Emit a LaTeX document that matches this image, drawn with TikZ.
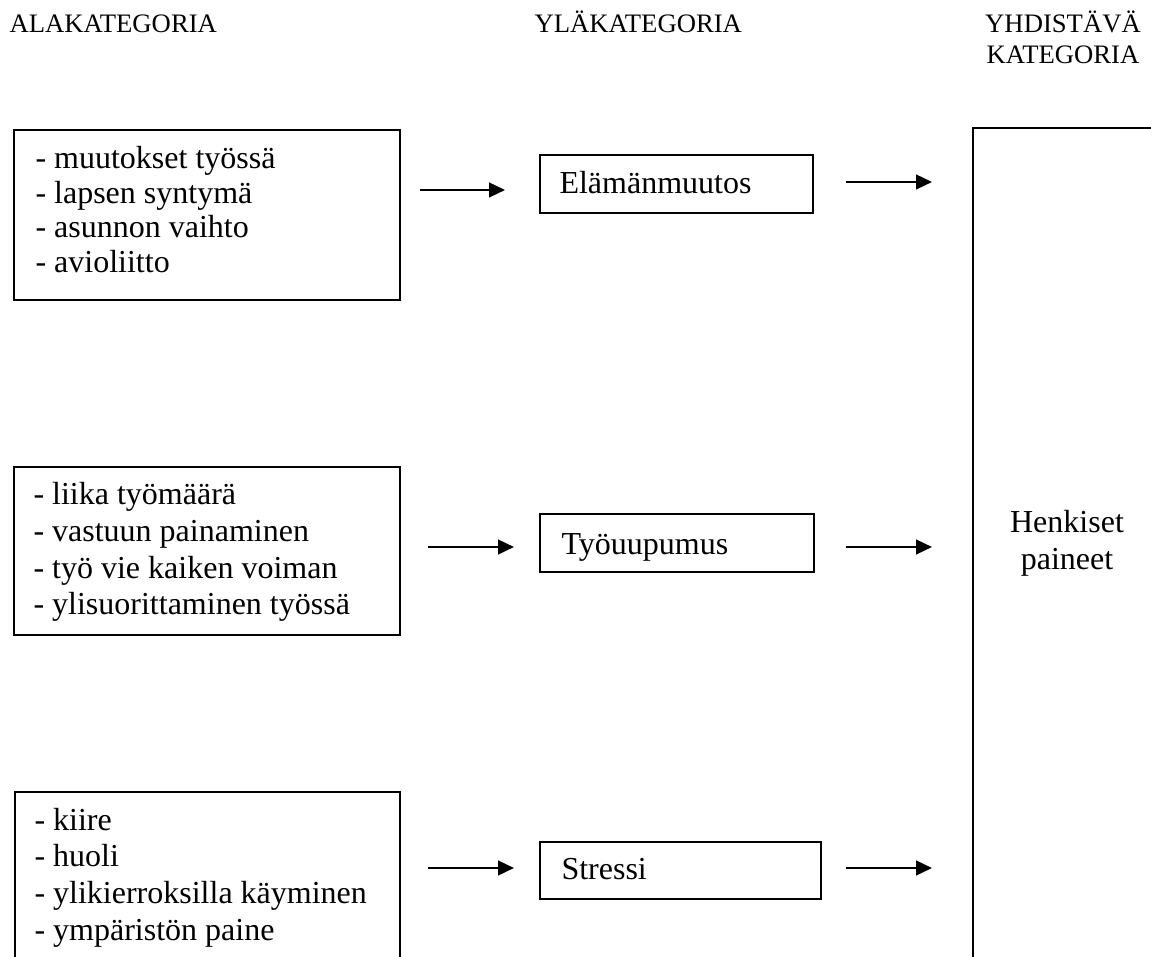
\documentclass[tikz,border=0pt]{standalone}
\usepackage{fontspec}
\setmainfont{Liberation Serif}
\usetikzlibrary{arrows.meta}
\tikzset{
  box/.style={draw, line width=0.8pt, rectangle, inner sep=0pt, anchor=north west},
  arr/.style={line width=0.9pt, -{Triangle[length=6pt,width=5.5pt]}},
  body/.style={inner sep=0pt, anchor=base west, font=\fontsize{12}{13.8}\selectfont},
  head/.style={inner sep=0pt, font=\fontsize{10}{11.6}\selectfont}
}
\begin{document}
\begin{tikzpicture}[x=0.375pt, y=-0.375pt]
\clip (0,0) rectangle (1151,957);
\fill[white] (0,0) rectangle (1151,957);

% headers
\node[head, anchor=base west] (h1) at (9,33) {ALAKATEGORIA};
\node[head, anchor=base west] (h2) at (534,33) {YLÄKATEGORIA};
\node[head, anchor=base] (h3) at (1063,33) {\vtop{\baselineskip=11.6pt\halign{\hfil#\hfil\cr YHDISTÄVÄ\cr KATEGORIA\cr}}};

% left boxes
\node[box, minimum width=144.75pt, minimum height=63.75pt] (a1) at (13,129) {};
\node[body] (t1) at (35,169) {\vtop{\baselineskip=12.9pt
  \hbox{- muutokset työssä}\hbox{- lapsen syntymä}\hbox{- asunnon vaihto}\hbox{- avioliitto}}};

\node[box, minimum width=144.75pt, minimum height=63pt] (a2) at (13,466) {};
\node[body] (t2) at (33,505) {\vtop{\baselineskip=13.75pt
  \hbox{- liika työmäärä}\hbox{- vastuun painaminen}\hbox{- työ vie kaiken voiman}\hbox{- ylisuorittaminen työssä}}};

\node[box, minimum width=144.4pt, minimum height=78pt] (a3) at (14,791) {};
\node[body] (t3) at (34,830) {\vtop{\baselineskip=13.75pt
  \hbox{- kiire}\hbox{- huoli}\hbox{- ylikierroksilla käyminen}\hbox{- ympäristön paine}}};

% middle boxes
\node[box, minimum width=102.4pt, minimum height=21.75pt] (b1) at (539,154) {};
\node[body] (u1) at (559,194) {Elämänmuutos};
\node[box, minimum width=102.75pt, minimum height=21.75pt] (b2) at (539,513) {};
\node[body] (u2) at (561,554) {Työuupumus};
\node[box, minimum width=105.4pt, minimum height=21.4pt] (b3) at (539,841) {};
\node[body] (u3) at (561,879) {Stressi};

% right box
\node[box, minimum width=78pt, minimum height=330pt] (c) at (972,127) {};
\node[inner sep=0pt, anchor=base, font=\fontsize{12}{13.8}\selectfont] (hp) at (1067,533)
  {\vtop{\baselineskip=13.8pt\halign{\hfil#\hfil\cr Henkiset\cr paineet\cr}}};

% arrow end points
\coordinate (l1s) at (420,190); \coordinate (l1e) at (505,190);
\coordinate (r1s) at (846,182); \coordinate (r1e) at (932,182);
\coordinate (l2s) at (428,547); \coordinate (l2e) at (514,547);
\coordinate (r2s) at (846,547); \coordinate (r2e) at (932,547);
\coordinate (l3s) at (428,868); \coordinate (l3e) at (514,868);
\coordinate (r3s) at (846,868); \coordinate (r3e) at (932,868);

\draw[arr] (l1s) -- (l1e);
\draw[arr] (r1s) -- (r1e);
\draw[arr] (l2s) -- (l2e);
\draw[arr] (r2s) -- (r2e);
\draw[arr] (l3s) -- (l3e);
\draw[arr] (r3s) -- (r3e);
\end{tikzpicture}
\end{document}
